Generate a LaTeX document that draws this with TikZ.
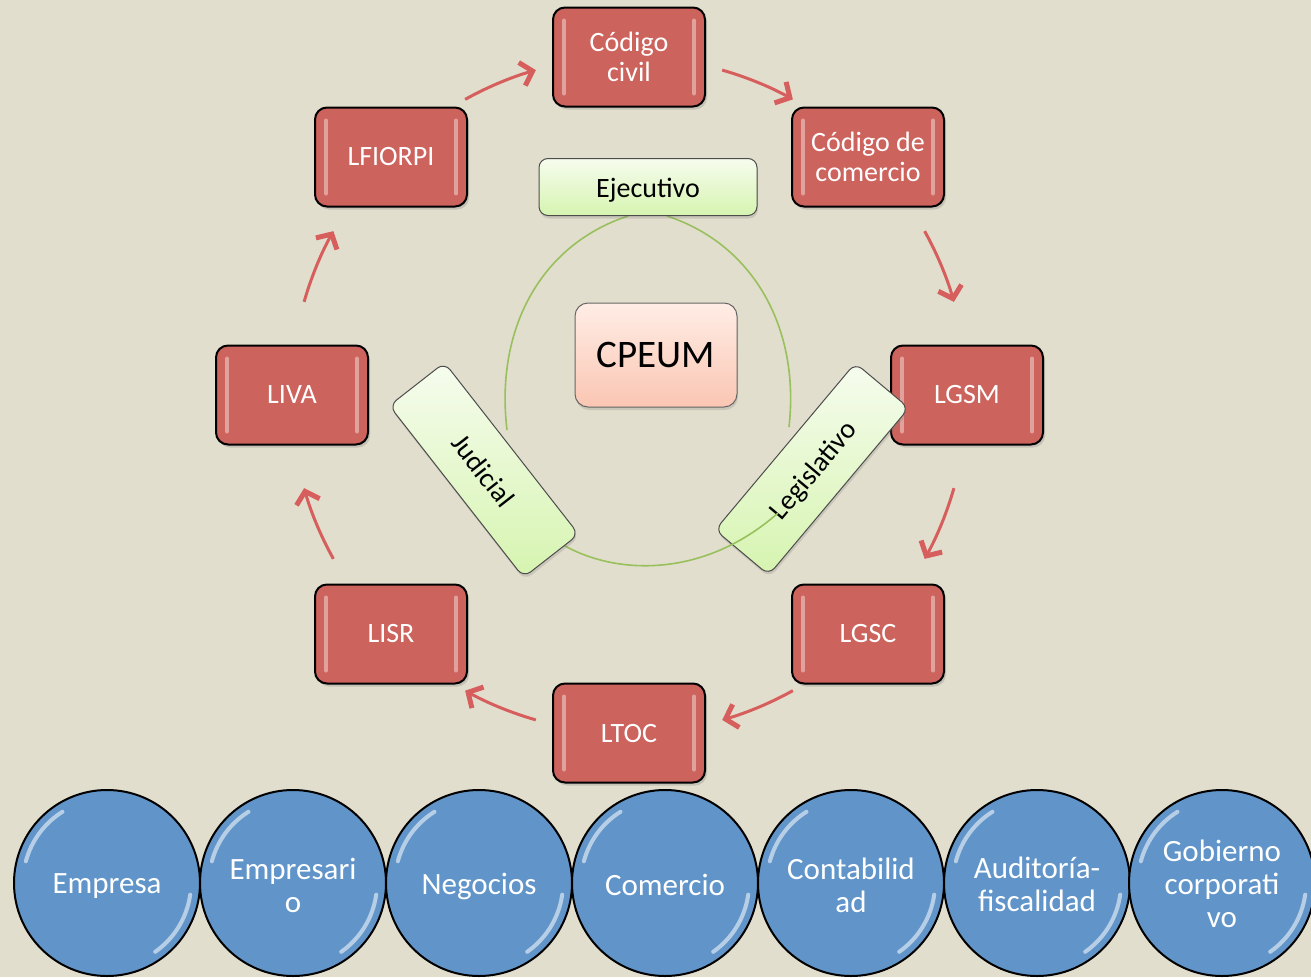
\documentclass[tikz,border=0pt]{standalone}
\usepackage{fontspec}
\setmainfont{Carlito}
\usetikzlibrary{arrows.meta,shadows}
\definecolor{bg}{RGB}{226,222,205}
\definecolor{boxred}{RGB}{205,99,93}
\definecolor{arrred}{RGB}{214,94,92}
\definecolor{bubblue}{RGB}{97,149,201}
\definecolor{arcgreen}{RGB}{152,192,92}
\definecolor{gtop}{RGB}{246,252,238}
\definecolor{gbot}{RGB}{214,244,176}
\definecolor{ptop}{RGB}{255,237,230}
\definecolor{pbot}{RGB}{250,198,178}
\begin{document}
\begin{tikzpicture}[x=1pt,y=1pt,
  lawbox/.style={rectangle, rounded corners=12pt, minimum width=152pt, minimum height=99pt,
    fill=boxred, draw=black, line width=2pt, text=white, align=center, inner sep=2pt,
    font=\fontsize{28}{30}\selectfont,
    drop shadow={opacity=0.3, shadow xshift=2pt, shadow yshift=-3pt}},
  branchbox/.style={rectangle, rounded corners=9pt, minimum width=218pt, minimum height=57pt,
    top color=gtop, bottom color=gbot, draw=black!70, line width=1pt, text=black,
    font=\fontsize{28}{30}\selectfont, inner sep=2pt, text height=21pt, text depth=0pt,
    drop shadow={opacity=0.25, shadow xshift=1pt, shadow yshift=-3pt}},
  corebox/.style={rectangle, rounded corners=13pt, minimum width=162pt, minimum height=104pt,
    top color=ptop, bottom color=pbot, draw=black!60, line width=1pt, text=black,
    font=\fontsize{39}{41}\selectfont,
    drop shadow={opacity=0.25, shadow xshift=1pt, shadow yshift=-3pt}},
  bub/.style={circle, minimum size=186pt, fill=bubblue, draw=black, line width=2pt,
    text=white, align=center, inner sep=0pt, font=\fontsize{31}{33}\selectfont},
  bubtext/.style={text=white, align=center, inner sep=0pt, font=\fontsize{31}{33}\selectfont},
  bubhl/.style={draw=white, opacity=0.55, line width=4pt, line cap=round},
  stripe/.style={draw=white, opacity=0.4, line width=4pt, line cap=round},
  grline/.style={draw=arcgreen, line width=1.6pt},
  arr/.style={draw=arrred, line width=3pt,
    -{Straight Barb[length=11pt, width=24pt, line width=5pt]}}
]
\useasboundingbox (0,0) rectangle (1311,-977);
\fill[bg] (0,0) rectangle (1311,-977);

\coordinate (ctr) at (629,-395);

% green cycle arcs (left and right), under the branch boxes
\coordinate (estartl) at (628,-216);
\coordinate (estartr) at (667,-216);
\coordinate (jend) at (507,-430);
\coordinate (lend) at (789,-427);
\draw[grline] (estartl) .. controls (540,-245) and (495,-330) .. (jend);
\draw[grline] (estartr) .. controls (755,-245) and (800,-330) .. (lend);
\node[branchbox] (ejec) at (648,-187) {Ejecutivo};

% law boxes
\node[lawbox] (civil)    at (629,-57)  {Código\\civil};
\node[lawbox] (comercio) at (868,-157) {Código de\\comercio};
\node[lawbox] (lgsm)     at (967,-395) {LGSM};
\node[lawbox] (lgsc)     at (868,-634) {LGSC};
\node[lawbox] (ltoc)     at (629,-733) {LTOC};
\node[lawbox] (lisr)     at (391,-634) {LISR};
\node[lawbox] (liva)     at (292,-395) {LIVA};
\node[lawbox] (lfiorpi)  at (391,-157) {LFIORPI};
\foreach \n in {civil,comercio,lgsm,lgsc,ltoc,lisr,liva,lfiorpi}{
  \draw[stripe] ([xshift=12pt,yshift=-14pt]\n.north west) -- ([xshift=12pt,yshift=14pt]\n.south west);
  \draw[stripe] ([xshift=-12pt,yshift=-14pt]\n.north east) -- ([xshift=-12pt,yshift=14pt]\n.south east);
}

% cycle arrows
\foreach \a [evaluate=\a as \s using \a-16, evaluate=\a as \e using \a-29] in {135,90,45,0,-45,-90,-135,-180}{
  \draw[arr] (ctr) ++(\s:338) arc[start angle=\s, end angle=\e, radius=338];
}

% Legislativo (over LGSM)
\node[branchbox, minimum height=70pt, rotate=50] (legis) at (812,-469) {Legislativo};

% bottom green arc (over Legislativo, under Judicial)
\coordinate (jstart) at (560,-543);
\coordinate (bend) at (778,-513);
\draw[grline] (jstart) .. controls (612,-575) and (702,-580) .. (bend);

\node[branchbox, minimum height=70pt, rotate=-52] (judi) at (484,-470) {Judicial};

% centre
\node[corebox] (cpeum) at (656,-355) {CPEUM};

% bottom bubbles
\foreach \n/\x in {c1/107,c2/293,c3/479,c4/665,c5/851,c6/1037,c7/1222}{
  \node[bub] (\n) at (\x,-883) {};
  \draw[bubhl] (\n.center) ++(122:84) arc[start angle=122, end angle=165, radius=84];
  \draw[bubhl] (\n.center) ++(-8:84) arc[start angle=-8, end angle=-55, radius=84];
}
\node[bubtext] (t1) at ([yshift=-3pt]c1.center) {Empresa};
\node[bubtext] (t2) at ([yshift=-2pt]c2.center) {Empresari\\o};
\node[bubtext] (t3) at ([yshift=-3pt]c3.center) {Negocios};
\node[bubtext] (t4) at ([yshift=-2pt]c4.center) {Comercio};
\node[bubtext] (t5) at ([yshift=-2pt]c5.center) {Contabilid\\ad};
\node[bubtext] (t6) at ([yshift=-1pt]c6.center) {Auditoría-\\fiscalidad};
\node[bubtext] (t7) at ([yshift=-1pt]c7.center) {Gobierno\\corporati\\vo};
\end{tikzpicture}
\end{document}
